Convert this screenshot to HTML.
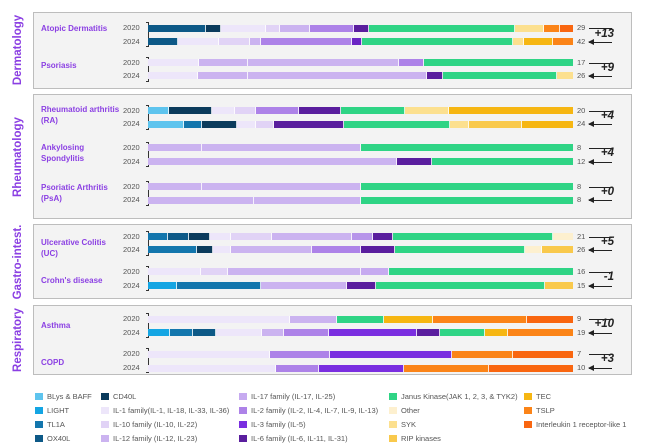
<!DOCTYPE html>
<html><head><meta charset="utf-8"><style>
*{margin:0;padding:0;box-sizing:border-box}
body{width:650px;height:445px;background:#fff;position:relative;overflow:hidden;font-family:"Liberation Sans",sans-serif}
.panel{position:absolute;left:33px;width:599px;background:#f3f3f3;border:1px solid #bdbdbd}
.sec{position:absolute;left:18px;transform:translate(-50%,-50%) rotate(-90deg);color:#8b3fe3;font-weight:bold;font-size:11.5px;white-space:nowrap}
.lab{position:absolute;left:41px;color:#8b3fe3;font-weight:bold;font-size:8px;line-height:11px}
.yr{position:absolute;left:123px;font-size:7.5px;color:#555;line-height:8px}
.bar{position:absolute;left:148px;width:425px;height:7px;display:flex}
.bar i{display:block;flex-basis:0;height:7px;border-right:1px solid rgba(255,255,255,.8)}
.bar i:last-child{border-right:none}
.n{position:absolute;left:577px;font-size:7.5px;color:#555;line-height:8px}
.br{position:absolute;left:146px;width:3px;border:1px solid #333;border-left:none}
.d{position:absolute;font-weight:bold;font-style:italic;font-size:11.5px;color:#222;text-align:right;width:40px;left:574px}
.ln{position:absolute;left:589px;width:23px;height:1px;background:#222}
.ar{position:absolute;left:589px;width:23px;height:1px;background:#222}
.ar:before{content:"";position:absolute;left:-1px;top:-3px;border-right:6px solid #222;border-top:3.5px solid transparent;border-bottom:3.5px solid transparent}
.lg{position:absolute;font-size:7.5px;color:#555;line-height:9px;white-space:nowrap}
.lg b{position:absolute;left:-12px;top:1px;width:8px;height:7px}
</style></head><body>
<div class="panel" style="top:12px;height:77px"></div>
<div class="panel" style="top:94px;height:125px"></div>
<div class="panel" style="top:224px;height:75px"></div>
<div class="panel" style="top:305px;height:70px"></div>
<div class="sec" style="top:50px">Dermatology</div>
<div class="sec" style="top:157px">Rheumatology</div>
<div class="sec" style="top:262px">Gastro-intest.</div>
<div class="sec" style="top:340px">Respiratory</div>

<div class="lab" style="top:23px">Atopic Dermatitis</div>
<div class="lab" style="top:60px">Psoriasis</div>
<div class="lab" style="top:104px">Rheumatoid arthritis<br>(RA)</div>
<div class="lab" style="top:142px">Ankylosing<br>Spondylitis</div>
<div class="lab" style="top:182px">Psoriatic Arthritis<br>(PsA)</div>
<div class="lab" style="top:237px">Ulcerative Colitis<br>(UC)</div>
<div class="lab" style="top:275px">Crohn's disease</div>
<div class="lab" style="top:320px">Asthma</div>
<div class="lab" style="top:357px">COPD</div>

<div class="yr" style="top:24px">2020</div><div class="yr" style="top:38px">2024</div>
<div class="yr" style="top:59px">2020</div><div class="yr" style="top:72px">2024</div>
<div class="yr" style="top:107px">2020</div><div class="yr" style="top:120px">2024</div>
<div class="yr" style="top:144px">2020</div><div class="yr" style="top:158px">2024</div>
<div class="yr" style="top:183px">2020</div><div class="yr" style="top:196px">2024</div>
<div class="yr" style="top:233px">2020</div><div class="yr" style="top:246px">2024</div>
<div class="yr" style="top:268px">2020</div><div class="yr" style="top:282px">2024</div>
<div class="yr" style="top:315px">2020</div><div class="yr" style="top:329px">2024</div>
<div class="yr" style="top:350px">2020</div><div class="yr" style="top:364px">2024</div>

<div class="br" style="top:22px;height:25px"></div>
<div class="br" style="top:57px;height:25px"></div>
<div class="br" style="top:105px;height:25px"></div>
<div class="br" style="top:142px;height:25px"></div>
<div class="br" style="top:181px;height:25px"></div>
<div class="br" style="top:231px;height:25px"></div>
<div class="br" style="top:266px;height:25px"></div>
<div class="br" style="top:313px;height:25px"></div>
<div class="br" style="top:348px;height:25px"></div>

<div class="bar" style="top:25px"><i style="flex-grow:140;background:#0d5987"></i><i style="flex-grow:34;background:#0b3b5c"></i><i style="flex-grow:108;background:#ede6fa"></i><i style="flex-grow:32;background:#e1d3f6"></i><i style="flex-grow:73;background:#cbb3f0"></i><i style="flex-grow:105;background:#ad82e8"></i><i style="flex-grow:35;background:#5a1e9e"></i><i style="flex-grow:355;background:#2fd485"></i><i style="flex-grow:68;background:#fce08f"></i><i style="flex-grow:37;background:#fb8418"></i><i style="flex-grow:33;background:#f96610"></i></div>
<div class="bar" style="top:38px"><i style="flex-grow:72;background:#0d5987"></i><i style="flex-grow:98;background:#ede6fa"></i><i style="flex-grow:72;background:#e1d3f6"></i><i style="flex-grow:25;background:#cbb3f0"></i><i style="flex-grow:220;background:#ad82e8"></i><i style="flex-grow:23;background:#6a24c4"></i><i style="flex-grow:367;background:#2fd485"></i><i style="flex-grow:25;background:#fce08f"></i><i style="flex-grow:70;background:#f6b612"></i><i style="flex-grow:48;background:#fb8418"></i></div>
<div class="bar" style="top:59px"><i style="flex-grow:120;background:#ede6fa"></i><i style="flex-grow:117;background:#cbb3f0"></i><i style="flex-grow:365;background:#cbb3f0"></i><i style="flex-grow:58;background:#ad82e8"></i><i style="flex-grow:360;background:#2fd485"></i></div>
<div class="bar" style="top:72px"><i style="flex-grow:118;background:#ede6fa"></i><i style="flex-grow:119;background:#cbb3f0"></i><i style="flex-grow:433;background:#cbb3f0"></i><i style="flex-grow:36;background:#5a1e9e"></i><i style="flex-grow:276;background:#2fd485"></i><i style="flex-grow:38;background:#fce08f"></i></div>
<div class="bar" style="top:107px"><i style="flex-grow:50;background:#5ec4ee"></i><i style="flex-grow:102;background:#0b3b5c"></i><i style="flex-grow:53;background:#ede6fa"></i><i style="flex-grow:50;background:#e1d3f6"></i><i style="flex-grow:103;background:#ad82e8"></i><i style="flex-grow:100;background:#5a1e9e"></i><i style="flex-grow:154;background:#2fd485"></i><i style="flex-grow:105;background:#fce08f"></i><i style="flex-grow:303;background:#f6b612"></i></div>
<div class="bar" style="top:121px"><i style="flex-grow:85;background:#5ec4ee"></i><i style="flex-grow:42;background:#1376ad"></i><i style="flex-grow:83;background:#0b3b5c"></i><i style="flex-grow:45;background:#ede6fa"></i><i style="flex-grow:42;background:#e1d3f6"></i><i style="flex-grow:170;background:#5a1e9e"></i><i style="flex-grow:256;background:#2fd485"></i><i style="flex-grow:44;background:#fce08f"></i><i style="flex-grow:127;background:#f9c94c"></i><i style="flex-grow:126;background:#f6b612"></i></div>
<div class="bar" style="top:144px"><i style="flex-grow:127;background:#cbb3f0"></i><i style="flex-grow:381;background:#cbb3f0"></i><i style="flex-grow:512;background:#2fd485"></i></div>
<div class="bar" style="top:158px"><i style="flex-grow:597;background:#cbb3f0"></i><i style="flex-grow:83;background:#5a1e9e"></i><i style="flex-grow:340;background:#2fd485"></i></div>
<div class="bar" style="top:183px"><i style="flex-grow:127;background:#cbb3f0"></i><i style="flex-grow:381;background:#cbb3f0"></i><i style="flex-grow:512;background:#2fd485"></i></div>
<div class="bar" style="top:197px"><i style="flex-grow:254;background:#cbb3f0"></i><i style="flex-grow:254;background:#cbb3f0"></i><i style="flex-grow:512;background:#2fd485"></i></div>
<div class="bar" style="top:233px"><i style="flex-grow:47;background:#1376ad"></i><i style="flex-grow:48;background:#0d5987"></i><i style="flex-grow:50;background:#0b3b5c"></i><i style="flex-grow:49;background:#ede6fa"></i><i style="flex-grow:98;background:#e1d3f6"></i><i style="flex-grow:193;background:#cbb3f0"></i><i style="flex-grow:50;background:#b795ea"></i><i style="flex-grow:47;background:#5a1e9e"></i><i style="flex-grow:390;background:#2fd485"></i><i style="flex-grow:48;background:#fdf0cf"></i></div>
<div class="bar" style="top:246px"><i style="flex-grow:117;background:#1376ad"></i><i style="flex-grow:38;background:#0b3b5c"></i><i style="flex-grow:40;background:#ede6fa"></i><i style="flex-grow:197;background:#cbb3f0"></i><i style="flex-grow:118;background:#ad82e8"></i><i style="flex-grow:79;background:#5a1e9e"></i><i style="flex-grow:315;background:#2fd485"></i><i style="flex-grow:40;background:#fdf0cf"></i><i style="flex-grow:76;background:#f9c94c"></i></div>
<div class="bar" style="top:268px"><i style="flex-grow:127;background:#ede6fa"></i><i style="flex-grow:63;background:#e1d3f6"></i><i style="flex-grow:318;background:#cbb3f0"></i><i style="flex-grow:66;background:#c6aaf0"></i><i style="flex-grow:446;background:#2fd485"></i></div>
<div class="bar" style="top:282px"><i style="flex-grow:67;background:#14a5e3"></i><i style="flex-grow:203;background:#1376ad"></i><i style="flex-grow:207;background:#cbb3f0"></i><i style="flex-grow:66;background:#5a1e9e"></i><i style="flex-grow:409;background:#2fd485"></i><i style="flex-grow:68;background:#f9c94c"></i></div>
<div class="bar" style="top:316px"><i style="flex-grow:342;background:#ede6fa"></i><i style="flex-grow:112;background:#cbb3f0"></i><i style="flex-grow:113;background:#2fd485"></i><i style="flex-grow:115;background:#f6b612"></i><i style="flex-grow:227;background:#fb8418"></i><i style="flex-grow:111;background:#f96610"></i></div>
<div class="bar" style="top:329px"><i style="flex-grow:52;background:#14a5e3"></i><i style="flex-grow:53;background:#1376ad"></i><i style="flex-grow:55;background:#0d5987"></i><i style="flex-grow:110;background:#ede6fa"></i><i style="flex-grow:52;background:#cbb3f0"></i><i style="flex-grow:108;background:#ad82e8"></i><i style="flex-grow:215;background:#7a2ee0"></i><i style="flex-grow:54;background:#5a1e9e"></i><i style="flex-grow:108;background:#2fd485"></i><i style="flex-grow:53;background:#f6b612"></i><i style="flex-grow:160;background:#fb8418"></i></div>
<div class="bar" style="top:351px"><i style="flex-grow:292;background:#ede6fa"></i><i style="flex-grow:145;background:#ad82e8"></i><i style="flex-grow:292;background:#7a2ee0"></i><i style="flex-grow:146;background:#fb8418"></i><i style="flex-grow:145;background:#f96610"></i></div>
<div class="bar" style="top:365px"><i style="flex-grow:307;background:#ede6fa"></i><i style="flex-grow:103;background:#ad82e8"></i><i style="flex-grow:202;background:#7a2ee0"></i><i style="flex-grow:205;background:#fb8418"></i><i style="flex-grow:203;background:#f96610"></i></div>

<div class="n" style="top:24px">29</div><div class="n" style="top:38px">42</div>
<div class="n" style="top:59px">17</div><div class="n" style="top:72px">26</div>
<div class="n" style="top:107px">20</div><div class="n" style="top:120px">24</div>
<div class="n" style="top:144px">8</div><div class="n" style="top:158px">12</div>
<div class="n" style="top:183px">8</div><div class="n" style="top:196px">8</div>
<div class="n" style="top:233px">21</div><div class="n" style="top:246px">26</div>
<div class="n" style="top:268px">16</div><div class="n" style="top:282px">15</div>
<div class="n" style="top:315px">9</div><div class="n" style="top:329px">19</div>
<div class="n" style="top:350px">7</div><div class="n" style="top:364px">10</div>

<div class="ln" style="top:28px"></div><div class="ar" style="top:42px"></div><div class="d" style="top:28px">+13</div>
<div class="ln" style="top:63px"></div><div class="ar" style="top:76px"></div><div class="d" style="top:62px">+9</div>
<div class="ln" style="top:111px"></div><div class="ar" style="top:124px"></div><div class="d" style="top:110px">+4</div>
<div class="ln" style="top:148px"></div><div class="ar" style="top:162px"></div><div class="d" style="top:147px">+4</div>
<div class="ln" style="top:187px"></div><div class="ar" style="top:200px"></div><div class="d" style="top:186px">+0</div>
<div class="ln" style="top:237px"></div><div class="ar" style="top:250px"></div><div class="d" style="top:236px">+5</div>
<div class="ln" style="top:272px"></div><div class="ar" style="top:286px"></div><div class="d" style="top:271px">-1</div>
<div class="ln" style="top:319px"></div><div class="ar" style="top:333px"></div><div class="d" style="top:318px">+10</div>
<div class="ln" style="top:354px"></div><div class="ar" style="top:368px"></div><div class="d" style="top:353px">+3</div>

<div class="lg" style="left:47px;top:392px"><b style="background:#5ec4ee"></b>BLys &amp; BAFF</div>
<div class="lg" style="left:47px;top:406px"><b style="background:#14a5e3"></b>LIGHT</div>
<div class="lg" style="left:47px;top:420px"><b style="background:#1376ad"></b>TL1A</div>
<div class="lg" style="left:47px;top:434px"><b style="background:#0d5987"></b>OX40L</div>
<div class="lg" style="left:113px;top:392px"><b style="background:#0b3b5c"></b>CD40L</div>
<div class="lg" style="left:113px;top:406px"><b style="background:#ede6fa"></b>IL-1 family(IL-1, IL-18, IL-33, IL-36)</div>
<div class="lg" style="left:113px;top:420px"><b style="background:#e1d3f6"></b>IL-10 family (IL-10, IL-22)</div>
<div class="lg" style="left:113px;top:434px"><b style="background:#cbb3f0"></b>IL-12 family (IL-12, IL-23)</div>
<div class="lg" style="left:251px;top:392px"><b style="background:#c6aaf0"></b>IL-17 family (IL-17, IL-25)</div>
<div class="lg" style="left:251px;top:406px"><b style="background:#ad82e8"></b>IL-2 family (IL-2, IL-4, IL-7, IL-9, IL-13)</div>
<div class="lg" style="left:251px;top:420px"><b style="background:#7a2ee0"></b>IL-3 family (IL-5)</div>
<div class="lg" style="left:251px;top:434px"><b style="background:#5a1e9e"></b>IL-6 family (IL-6, IL-11, IL-31)</div>
<div class="lg" style="left:401px;top:392px"><b style="background:#2fd485"></b>Janus Kinase(JAK 1, 2, 3, &amp; TYK2)</div>
<div class="lg" style="left:401px;top:406px"><b style="background:#fdf0cf"></b>Other</div>
<div class="lg" style="left:401px;top:420px"><b style="background:#fce08f"></b>SYK</div>
<div class="lg" style="left:401px;top:434px"><b style="background:#f9c94c"></b>RIP kinases</div>
<div class="lg" style="left:536px;top:392px"><b style="background:#f6b612"></b>TEC</div>
<div class="lg" style="left:536px;top:406px"><b style="background:#fb8418"></b>TSLP</div>
<div class="lg" style="left:536px;top:420px"><b style="background:#f96610"></b>Interleukin 1 receptor-like 1</div>
</body></html>
